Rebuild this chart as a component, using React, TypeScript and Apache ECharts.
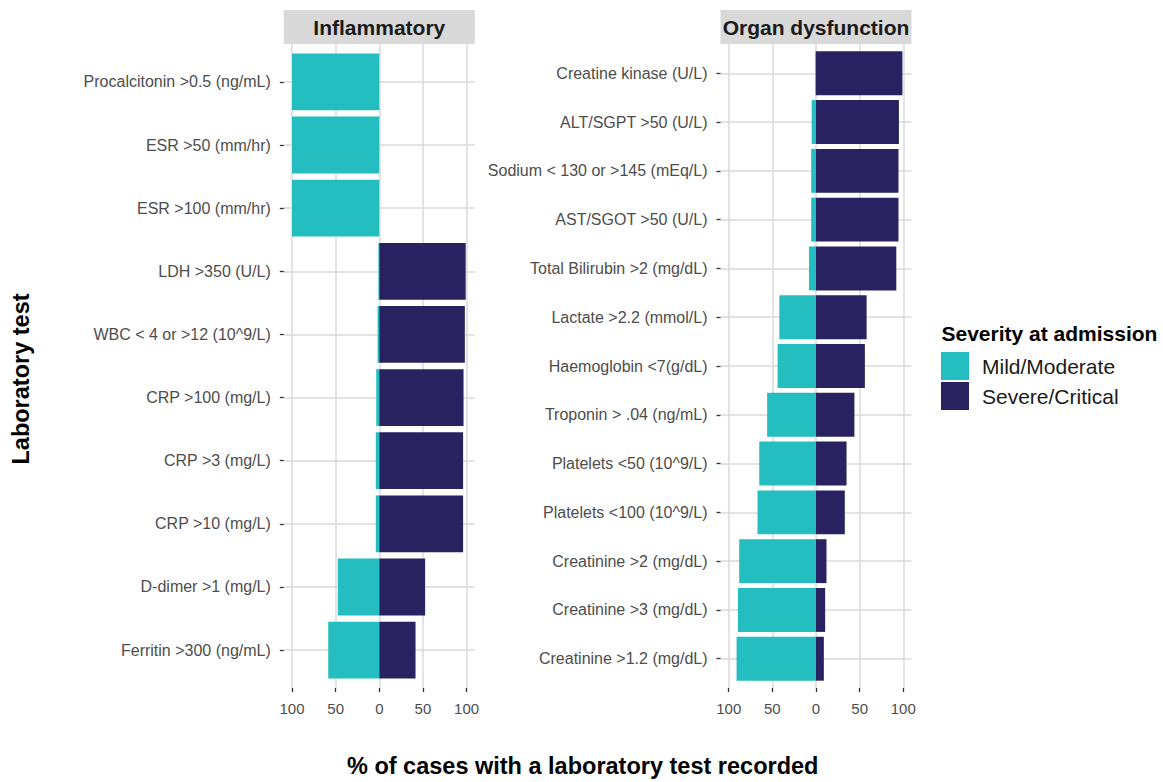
import React, { useEffect, useRef } from "react";
import * as echarts from "echarts";

// Laboratory tests, top to bottom, per facet
const inflammatoryTests = [
  "Procalcitonin >0.5 (ng/mL)",
  "ESR >50 (mm/hr)",
  "ESR >100 (mm/hr)",
  "LDH >350 (U/L)",
  "WBC < 4 or >12 (10^9/L)",
  "CRP >100 (mg/L)",
  "CRP >3 (mg/L)",
  "CRP >10 (mg/L)",
  "D-dimer >1 (mg/L)",
  "Ferritin >300 (ng/mL)",
];
const inflammatoryMild = [100, 100, 100, 1, 2, 3.5, 4, 4, 47.5, 58.5];
const inflammatorySevere = [0, 0, 0, 99, 98, 96.5, 96, 96, 52.5, 41.5];

const organTests = [
  "Creatine kinase (U/L)",
  "ALT/SGPT >50 (U/L)",
  "Sodium < 130 or >145 (mEq/L)",
  "AST/SGOT >50 (U/L)",
  "Total Bilirubin >2 (mg/dL)",
  "Lactate >2.2 (mmol/L)",
  "Haemoglobin <7(g/dL)",
  "Troponin > .04 (ng/mL)",
  "Platelets <50 (10^9/L)",
  "Platelets <100 (10^9/L)",
  "Creatinine >2 (mg/dL)",
  "Creatinine >3 (mg/dL)",
  "Creatinine >1.2 (mg/dL)",
];
const organMild = [1, 5, 5.5, 5.5, 8, 42, 44, 56, 65, 67, 88, 89.5, 91];
const organSevere = [99, 95, 94.5, 94.5, 92, 58, 56, 44, 35, 33, 12, 10.5, 9];

const facetTitles = ["Inflammatory", "Organ dysfunction"];
const severityLevels = ["Mild/Moderate", "Severe/Critical"];
const xTicks = [-100, -50, 0, 50, 100];

const FONT = "'Liberation Sans', Arial, Helvetica, sans-serif";
const TEAL = "#25BEC0";
const NAVY = "#282360";
const GRID_LINE = "#dadada";
const STRIP = "#d9d9d9";

// Panel geometry
const PANEL_TOP = 44;
const PANEL_H = 644;
const PANEL_W = 191;
const PX_PER_UNIT = 0.8729;
const HALF_RANGE = PANEL_W / 2 / PX_PER_UNIT; // data units from zero to panel edge
const DISCRETE_PAD = 0.6; // band fraction added above first / below last category

function panelLayout(zeroX: number, n: number) {
  const band = PANEL_H / (n - 1 + 2 * DISCRETE_PAD);
  const firstCenter = PANEL_TOP + DISCRETE_PAD * band;
  return {
    band,
    main: {
      left: zeroX - PANEL_W / 2,
      top: firstCenter,
      width: PANEL_W,
      height: band * (n - 1),
    },
    back: {
      left: zeroX - 100 * PX_PER_UNIT,
      top: PANEL_TOP,
      width: 200 * PX_PER_UNIT,
      height: PANEL_H,
    },
    stripX: zeroX - PANEL_W / 2,
    zeroX,
  };
}

const leftPanel = panelLayout(379.3, inflammatoryTests.length);
const rightPanel = panelLayout(816, organTests.length);

function mainX(gridIndex: number) {
  return {
    type: "value",
    gridIndex,
    min: -HALF_RANGE,
    max: HALF_RANGE,
    show: false,
    axisLine: { onZero: false },
  };
}

function backX(gridIndex: number) {
  return {
    type: "value",
    gridIndex,
    min: -100,
    max: 100,
    interval: 50,
    axisLine: { show: false, onZero: false },
    axisTick: { show: true, length: 4, lineStyle: { color: "#333333", width: 1.3 } },
    axisLabel: {
      show: true,
      margin: 13,
      fontSize: 15,
      color: "#4d4d4d",
      fontFamily: FONT,
      formatter: (v: number) => (xTicks.includes(v) ? String(Math.abs(v)) : ""),
    },
    splitLine: { show: true, lineStyle: { color: GRID_LINE, width: 1.5 } },
  };
}

function mainY(gridIndex: number, data: string[]) {
  return {
    type: "category",
    gridIndex,
    data,
    inverse: true,
    boundaryGap: false,
    position: "left",
    axisLine: { show: false, onZero: false },
    axisTick: { show: true, length: 4, interval: 0, lineStyle: { color: "#333333", width: 1.3 } },
    axisLabel: {
      show: true,
      interval: 0,
      margin: 13,
      fontSize: 16,
      color: "#4d4d4d",
      fontFamily: FONT,
    },
    splitLine: { show: true, interval: 0, lineStyle: { color: GRID_LINE, width: 1.5 } },
  };
}

function backY(gridIndex: number) {
  return { type: "value", gridIndex, min: 0, max: 1, show: false, axisLine: { onZero: false } };
}

function barPair(axisIndex: number, mild: number[], severe: number[], barWidth: number) {
  return [
    {
      type: "bar",
      name: severityLevels[0],
      xAxisIndex: axisIndex,
      yAxisIndex: axisIndex,
      data: mild.map((v) => -v),
      barWidth,
      barGap: "-100%",
      clip: false,
      itemStyle: { color: TEAL },
      emphasis: { disabled: true },
    },
    {
      type: "bar",
      name: severityLevels[1],
      xAxisIndex: axisIndex,
      yAxisIndex: axisIndex,
      data: severe,
      barWidth,
      barGap: "-100%",
      clip: false,
      itemStyle: { color: NAVY },
      emphasis: { disabled: true },
    },
  ];
}

function stripGraphics(panel: ReturnType<typeof panelLayout>, title: string) {
  return [
    {
      type: "rect",
      shape: { x: panel.stripX, y: 10, width: PANEL_W, height: 34 },
      style: { fill: STRIP },
      z: 0,
    },
    {
      type: "text",
      x: panel.stripX + PANEL_W / 2,
      y: 27.5,
      style: {
        text: title,
        fontSize: 21,
        fontWeight: "bold",
        fontFamily: FONT,
        fill: "#1a1a1a",
        textAlign: "center",
        textVerticalAlign: "middle",
        verticalAlign: "middle",
      },
      z: 1,
    },
  ];
}

export default function App() {
  const ref = useRef<HTMLDivElement>(null);

  useEffect(() => {
    document.body.style.margin = "0";
    if (!ref.current) return;
    const chart = echarts.init(ref.current, undefined, { renderer: "svg" });

    const option = {
      animation: false,
      backgroundColor: "#ffffff",
      textStyle: { fontFamily: FONT },
      grid: [
        { ...leftPanel.main, containLabel: false },
        { ...leftPanel.back, containLabel: false },
        { ...rightPanel.main, containLabel: false },
        { ...rightPanel.back, containLabel: false },
      ],
      xAxis: [mainX(0), backX(1), mainX(2), backX(3)],
      yAxis: [
        mainY(0, inflammatoryTests),
        backY(1),
        mainY(2, organTests),
        backY(3),
      ],
      legend: {
        data: severityLevels,
        orient: "vertical",
        left: 941,
        top: 352,
        padding: 0,
        itemWidth: 28,
        itemHeight: 28,
        itemGap: 2,
        icon: "rect",
        selectedMode: false,
        textStyle: {
          fontSize: 21,
          color: "#1a1a1a",
          fontFamily: FONT,
          padding: [0, 0, 0, 8],
        },
      },
      series: [
        ...barPair(0, inflammatoryMild, inflammatorySevere, leftPanel.band * 0.9),
        ...barPair(2, organMild, organSevere, rightPanel.band * 0.9),
      ],
      graphic: [
        ...stripGraphics(leftPanel, facetTitles[0]),
        ...stripGraphics(rightPanel, facetTitles[1]),
        {
          type: "text",
          x: 582.7,
          y: 766,
          style: {
            text: "% of cases with a laboratory test recorded",
            fontSize: 23.5,
            fontWeight: "bold",
            fontFamily: FONT,
            fill: "#000000",
            textAlign: "center",
            textVerticalAlign: "middle",
            verticalAlign: "middle",
          },
        },
        {
          type: "text",
          x: 21,
          y: 379,
          rotation: Math.PI / 2,
          style: {
            text: "Laboratory test",
            fontSize: 23.5,
            fontWeight: "bold",
            fontFamily: FONT,
            fill: "#000000",
            textAlign: "center",
            textVerticalAlign: "middle",
            verticalAlign: "middle",
          },
        },
        {
          type: "text",
          x: 941.5,
          y: 333,
          style: {
            text: "Severity at admission",
            fontSize: 21,
            fontWeight: "bold",
            fontFamily: FONT,
            fill: "#000000",
            textAlign: "left",
            textVerticalAlign: "middle",
            verticalAlign: "middle",
          },
        },
      ],
    };

    chart.setOption(option as any);
    return () => chart.dispose();
  }, []);

  return <div ref={ref} style={{ width: 1163, height: 782 }} />;
}
